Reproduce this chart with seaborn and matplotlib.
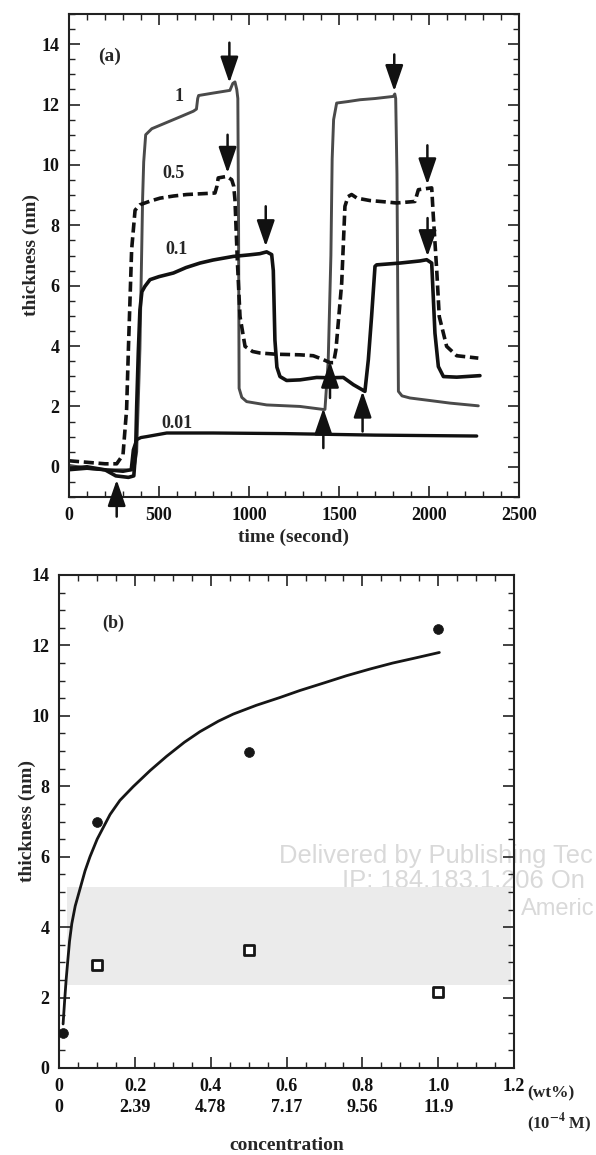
import matplotlib
matplotlib.use("Agg")
import matplotlib.pyplot as plt
import seaborn as sns
from matplotlib.ticker import MultipleLocator, FixedLocator

# ---------------- panel (a): thickness vs time ----------------
t_c1 = [0, 100, 200, 300, 360, 376, 394, 404, 409, 415, 426, 460, 500, 560, 620, 691, 708, 715,
        720, 800, 894, 910, 922, 932, 938, 942, 945, 960, 987, 1098, 1283, 1413, 1422, 1440,
        1455, 1462, 1470, 1487, 1550, 1617, 1700, 1802, 1810, 1815, 1822, 1830, 1850, 1894,
        2000, 2117, 2274]
h_c1 = [0.05, -0.05, -0.1, -0.1, -0.1, 0.5, 3.9, 7.2, 8.9, 10.1, 11.0, 11.2, 11.3, 11.45, 11.6,
        11.78, 11.85, 12.2, 12.3, 12.38, 12.47, 12.7, 12.75, 12.5, 12.2, 8.0, 2.6, 2.3, 2.16,
        2.05, 2.0, 1.9, 1.9, 3.5, 7.0, 10.2, 11.5, 12.05, 12.1, 12.16, 12.2, 12.27, 12.35, 12.2,
        9.7, 2.5, 2.35, 2.28, 2.2, 2.11, 2.02]

t_c05 = [0, 100, 200, 265, 300, 320, 330, 348, 367, 394, 450, 506, 580, 654, 750, 811, 822, 829,
         876, 904, 915, 922, 935, 950, 978, 1020, 1061, 1150, 1283, 1357, 1413, 1450, 1470, 1483,
         1515, 1533, 1550, 1570, 1600, 1672, 1750, 1820, 1922, 1941, 2015, 2024, 2043, 2057, 2098,
         2154, 2274]
h_c05 = [0.2, 0.15, 0.1, 0.1, 0.4, 1.9, 3.9, 7.2, 8.5, 8.68, 8.8, 8.9, 8.97, 9.02, 9.05, 9.07,
         9.3, 9.57, 9.62, 9.51, 9.3, 8.85, 6.86, 4.98, 3.99, 3.82, 3.77, 3.73, 3.71, 3.68, 3.55,
         3.45, 3.45, 3.88, 6.09, 8.63, 8.95, 9.02, 8.9, 8.82, 8.78, 8.74, 8.79, 9.18, 9.24, 8.3,
         6.5, 4.98, 3.99, 3.68, 3.6]

t_c01 = [0, 100, 200, 260, 330, 360, 370, 376, 385, 394, 405, 422, 450, 500, 580, 650, 728, 800,
         913, 1000, 1060, 1098, 1126, 1135, 1144, 1155, 1172, 1209, 1283, 1376, 1450, 1524, 1580,
         1644, 1663, 1681, 1700, 1709, 1839, 1950, 1987, 2015, 2033, 2052, 2080, 2154, 2283]
h_c01 = [-0.05, 0.0, -0.1, -0.3, -0.35, -0.3, 0.5, 2.0, 3.8, 5.2, 5.8, 5.98, 6.2, 6.3, 6.42, 6.6,
         6.75, 6.85, 6.97, 7.02, 7.06, 7.12, 7.03, 6.5, 4.2, 3.3, 2.99, 2.86, 2.88, 2.96, 2.95,
         2.96, 2.72, 2.5, 3.55, 4.98, 6.64, 6.69, 6.75, 6.82, 6.86, 6.75, 4.43, 3.32, 2.99, 2.97,
         3.02]

t_c001 = [0, 100, 200, 300, 345, 357, 376, 400, 431, 543, 800, 1200, 1700, 2265]
h_c001 = [-0.1, -0.05, -0.1, -0.15, -0.1, 0.56, 0.9, 0.97, 1.0, 1.12, 1.12, 1.1, 1.05, 1.02]

# arrows (time, tip thickness, tail thickness)
down_t = [891, 881, 1093, 1807, 1991, 1992]
down_tip = [12.72, 9.73, 7.30, 12.44, 9.35, 6.97]
down_tail = [14.05, 11.0, 8.63, 13.66, 10.65, 8.24]
up_t = [265, 1413, 1450, 1631]
up_tip = [-0.43, 1.94, 3.49, 2.5]
up_tail = [-1.65, 0.62, 2.28, 1.17]

# ---------------- panel (b): thickness vs concentration ----------------
conc_fit = [0.010, 0.014, 0.018, 0.022, 0.027, 0.033, 0.042, 0.055, 0.068, 0.081, 0.100, 0.134,
            0.160, 0.195, 0.240, 0.283, 0.330, 0.371, 0.420, 0.459, 0.520, 0.582, 0.635, 0.700,
            0.758, 0.820, 0.880, 0.934, 1.003]
thick_fit = [1.25, 1.9, 2.5, 3.0, 3.6, 4.1, 4.6, 5.1, 5.6, 6.0, 6.5, 7.2, 7.6, 7.99, 8.45, 8.85,
             9.25, 9.55, 9.85, 10.05, 10.3, 10.52, 10.72, 10.94, 11.14, 11.33, 11.5, 11.63, 11.8]
conc_filled = [0.01, 0.1, 0.5, 1.0]
thick_filled = [1.0, 6.98, 8.96, 12.46]
conc_open = [0.1, 0.5, 1.0]
thick_open = [2.93, 3.35, 2.17]
band_low, band_high = 2.35, 5.13
wt_ticks = [0, 0.2, 0.4, 0.6, 0.8, 1.0, 1.2]
wt_labels = ["0", "0.2", "0.4", "0.6", "0.8", "1.0", "1.2"]
molar_labels = ["0", "2.39", "4.78", "7.17", "9.56", "11.9", ""]

sns.set_theme(style="ticks")
plt.rcParams['font.family'] = ['Liberation Serif', 'DejaVu Serif']
plt.rcParams['font.weight'] = 'bold'
plt.rcParams['mathtext.fontset'] = 'stix'
plt.rcParams['mathtext.default'] = 'bf'

W, H = 596, 1155
fig = plt.figure(figsize=(W / 100, H / 100), dpi=100)
fig.patch.set_facecolor('white')

# watermark (behind axes)
wm = dict(family='Liberation Sans', weight='normal', size=18.4, color='#d9d9d9',
          va='baseline', ha='left', zorder=-5)
fig.text(279 / W, 1 - 863 / H, "Delivered by Publishing Tec", **wm)
fig.text(342 / W, 1 - 888 / H, "IP: 184.183.1.206 On", **wm)
fig.text(521 / W, 1 - 915 / H, "Americ", **{**wm, 'size': 17})

axa = fig.add_axes([69 / W, 1 - 497 / H, 450 / W, 483 / H])
axb = fig.add_axes([59.3 / W, 1 - 1068 / H, 454.7 / W, 493 / H])
for ax in (axa, axb):
    ax.set_facecolor('none')

TICK = 13
LAB = 14

# ---- panel (a)
sns.lineplot(x=t_c1, y=h_c1, ax=axa, color='#4a4a4a', lw=2.1, sort=False, estimator=None)
sns.lineplot(x=t_c05, y=h_c05, ax=axa, color='#111111', lw=2.6, sort=False, estimator=None,
             linestyle=(0, (2.8, 1.3)))
sns.lineplot(x=t_c01, y=h_c01, ax=axa, color='#111111', lw=2.6, sort=False, estimator=None)
sns.lineplot(x=t_c001, y=h_c001, ax=axa, color='#111111', lw=2.4, sort=False, estimator=None)

aprops = dict(arrowstyle='-|>,head_length=16,head_width=5.5', color='#111111', lw=1.8,
              mutation_scale=1, shrinkA=0, shrinkB=0)
for t, tip, tail in zip(down_t, down_tip, down_tail):
    axa.annotate("", xy=(t, tip), xytext=(t, tail), arrowprops=aprops, annotation_clip=False)
for t, tip, tail in zip(up_t, up_tip, up_tail):
    axa.annotate("", xy=(t, tip), xytext=(t, tail), arrowprops=aprops, annotation_clip=False)

axa.text(611, 12.27, "1", size=13, ha='center', va='center')
axa.text(578, 9.7, "0.5", size=13, ha='center', va='center')
axa.text(598, 7.19, "0.1", size=13, ha='center', va='center')
axa.text(598, 1.45, "0.01", size=13, ha='center', va='center')
axa.text(228, 13.6, "(a)", size=14, ha='center', va='center')

axa.set_xlim(0, 2500)
axa.set_ylim(-1, 15)
axa.xaxis.set_major_locator(MultipleLocator(500))
axa.xaxis.set_minor_locator(MultipleLocator(100))
axa.yaxis.set_major_locator(FixedLocator([0, 2, 4, 6, 8, 10, 12, 14]))
axa.yaxis.set_minor_locator(MultipleLocator(0.5))
axa.set_xlabel("time (second)", fontsize=LAB, fontweight='bold')
axa.set_ylabel("thickness (nm)", fontsize=LAB, fontweight='bold')
axa.xaxis.set_label_coords(0.5, -0.066)
axa.yaxis.set_label_coords(-0.064, 0.5)

# ---- panel (b)
axb.axhspan(band_low, band_high, xmin=0.017, xmax=0.994, color='#ebebeb', lw=0, zorder=0)
sns.lineplot(x=conc_fit, y=thick_fit, ax=axb, color='#161616', lw=2.0, sort=False,
             estimator=None, zorder=2)
sns.scatterplot(x=conc_filled, y=thick_filled, ax=axb, color='#161616', s=50, marker='o',
                edgecolor='#161616', linewidth=0.5, zorder=3)
sns.scatterplot(x=conc_open, y=thick_open, ax=axb, marker='s', s=58, facecolor='white',
                edgecolor='#161616', linewidth=2.0, zorder=3)
axb.text(0.142, 12.63, "(b)", size=13, ha='center', va='center')

axb.set_xlim(0, 1.2)
axb.set_ylim(0, 14)
axb.xaxis.set_major_locator(FixedLocator(wt_ticks))
axb.xaxis.set_minor_locator(MultipleLocator(0.05))
axb.yaxis.set_major_locator(MultipleLocator(2))
axb.yaxis.set_minor_locator(MultipleLocator(0.5))
axb.set_xticklabels([f"{a}\n{b}" if b else a for a, b in zip(wt_labels, molar_labels)])
for lbl in axb.get_xticklabels():
    lbl.set_linespacing(1.3)
axb.set_xlabel("concentration", fontsize=LAB, fontweight='bold')
axb.set_ylabel("thickness (nm)", fontsize=LAB, fontweight='bold')
axb.xaxis.set_label_coords(0.5, -0.14)
axb.yaxis.set_label_coords(-0.052, 0.5)
fig.text(527 / W, 1 - 1093 / H, "(wt%)", size=12.5, ha='left', va='center')
fig.text(527 / W, 1 - 1123 / H, r"(10$^{-4}$ M)", size=12, ha='left', va='center')

for ax in (axa, axb):
    ax.tick_params(which='both', direction='in', top=True, right=True, colors='#222222',
                   labelcolor='#111111', labelsize=TICK)
    ax.tick_params(which='major', length=8, width=1.2, pad=7)
    ax.tick_params(which='minor', length=4.5, width=1.0)
    for s in ax.spines.values():
        s.set_linewidth(1.5)
        s.set_color('#222222')
        s.set_visible(True)

fig.savefig("out.png", dpi=100, facecolor='white')
